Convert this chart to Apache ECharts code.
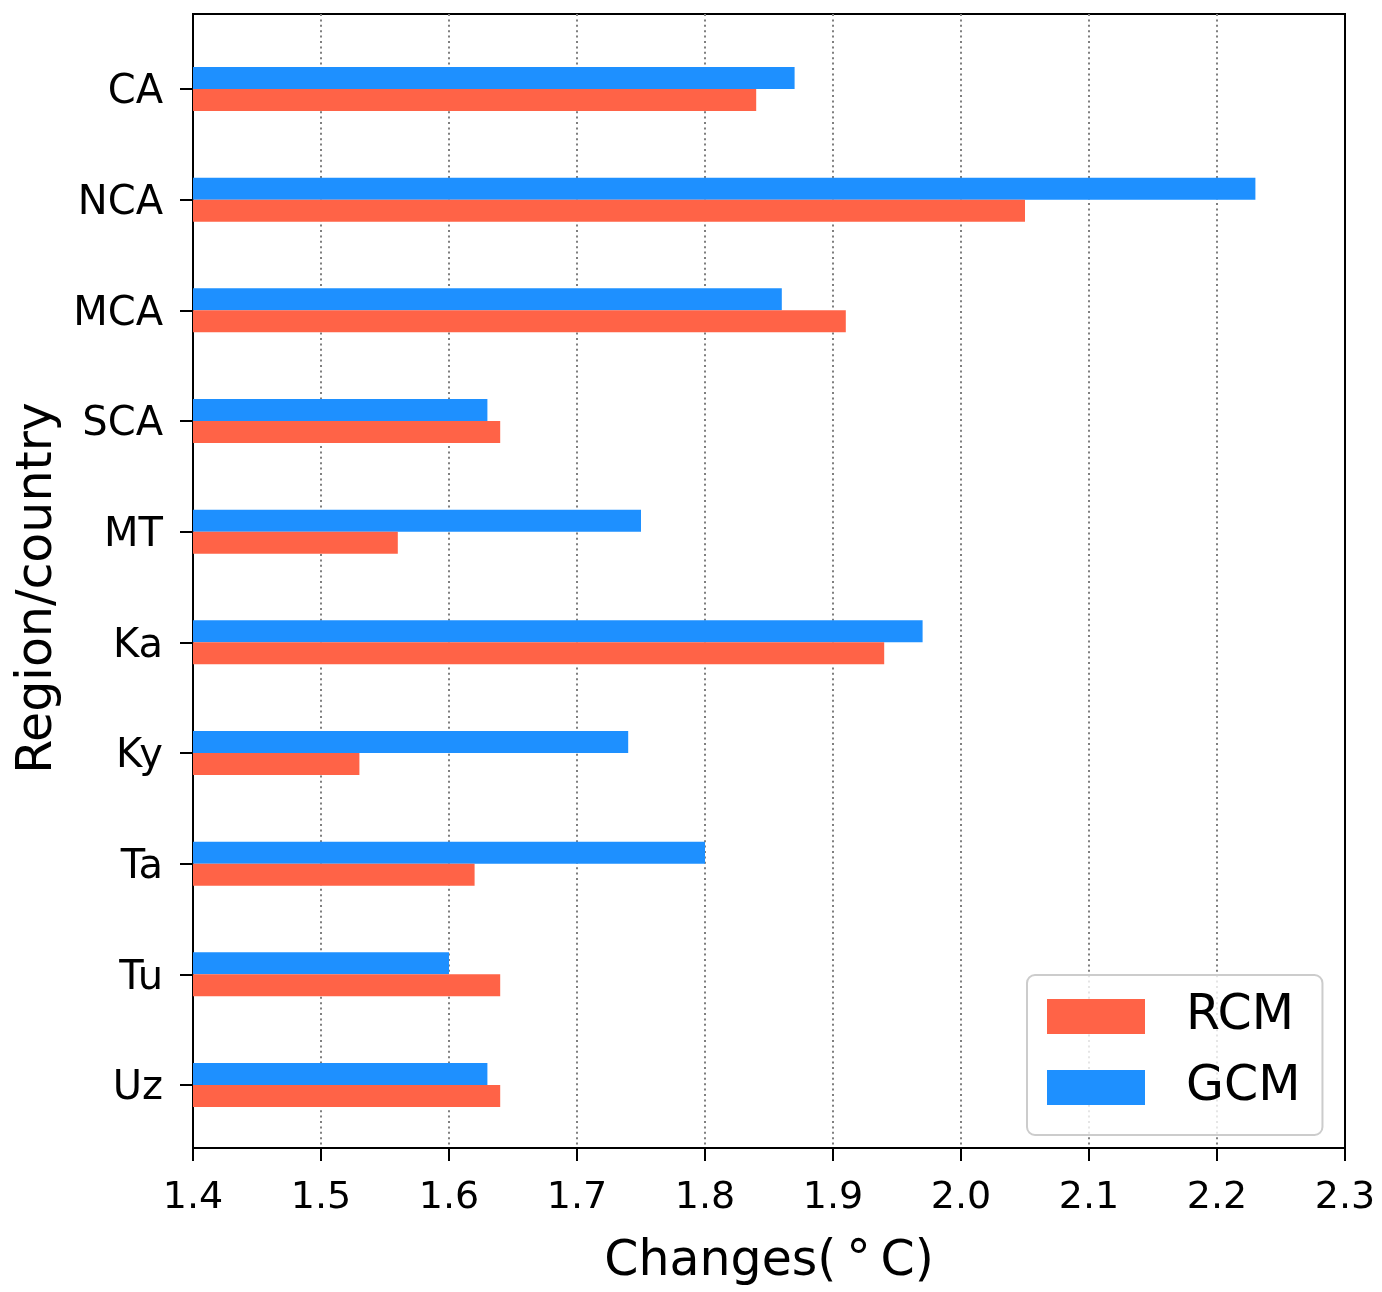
<!DOCTYPE html>
<html>
<head>
<meta charset="utf-8">
<script src="https://cdn.jsdelivr.net/npm/echarts@6/dist/echarts.min.js"></script>
<style>
  html, body { margin: 0; padding: 0; background: #fff; }
  #chart { width: 1382px; height: 1292px; }
</style>
</head>
<body>
<div id="chart"></div>
<script>
// Regions / countries, top to bottom
const categories = ['CA', 'NCA', 'MCA', 'SCA', 'MT', 'Ka', 'Ky', 'Ta', 'Tu', 'Uz'];
// Temperature changes (°C)
const rcmValues = [1.84, 2.05, 1.91, 1.64, 1.56, 1.94, 1.53, 1.62, 1.64, 1.64];
const gcmValues = [1.87, 2.23, 1.86, 1.63, 1.75, 1.97, 1.74, 1.80, 1.60, 1.63];
// Value-axis range and tick step
const xMin = 1.4;
const xMax = 2.3;
const xStep = 0.1;

const FONT = 'DejaVu Sans';
const RED = '#FF6347';
const BLUE = '#1E90FF';

const chart = echarts.init(document.getElementById('chart'), null, { renderer: 'canvas' });

chart.setOption({
  backgroundColor: '#fff',
  animation: false,
  textStyle: { fontFamily: FONT, color: '#000' },
  legend: {
    data: ['RCM', 'GCM'],
    orient: 'vertical',
    left: 1027,
    top: 975,
    padding: [17, 22, 23, 20],
    itemWidth: 98,
    itemHeight: 35,
    itemGap: 22,
    backgroundColor: 'rgba(255,255,255,0.8)',
    borderColor: '#cccccc',
    borderWidth: 2,
    borderRadius: 8,
    icon: 'rect',
    textStyle: { fontFamily: FONT, fontSize: 49, color: '#000', padding: [0, 0, 0, 36] }
  },
  grid: [
    // frame + value axis
    { left: 193, right: 37, top: 14, bottom: 133, show: true, borderColor: '#000', borderWidth: 2, backgroundColor: 'transparent' },
    // category bands
    { left: 193, right: 37, top: 33.7, bottom: 151.7 }
  ],
  xAxis: [
    {
      gridIndex: 0,
      type: 'value',
      min: xMin,
      max: xMax,
      interval: xStep,
      name: 'Changes(\u2009\u00B0\u2009C)',
      nameLocation: 'middle',
      nameGap: 90,
      nameTextStyle: { fontFamily: FONT, fontSize: 49, color: '#000' },
      axisLine: { show: true, lineStyle: { color: '#000', width: 2 } },
      axisTick: { show: true, inside: false, length: 13, lineStyle: { color: '#000', width: 2 } },
      axisLabel: {
        show: true, margin: 31, fontFamily: FONT, fontSize: 38, color: '#000',
        formatter: v => v.toFixed(1)
      },
      splitLine: { show: true, showMinLine: false, showMaxLine: false, lineStyle: { color: '#7f7f7f', width: 2, type: [2, 3.4] } }
    },
    {
      gridIndex: 1,
      type: 'value',
      min: xMin,
      max: xMax,
      show: false,
      splitLine: { show: false }
    }
  ],
  yAxis: [
    {
      gridIndex: 0,
      type: 'value',
      min: 0,
      max: 1,
      name: 'Region/country',
      nameLocation: 'middle',
      nameGap: 130,
      nameRotate: 90,
      nameTextStyle: { fontFamily: FONT, fontSize: 49, color: '#000', padding: [0, 14, 0, 0] },
      axisLine: { show: true, lineStyle: { color: '#000', width: 2 } },
      axisTick: { show: false },
      axisLabel: { show: false },
      splitLine: { show: false }
    },
    {
      gridIndex: 1,
      type: 'category',
      inverse: true,
      data: categories,
      axisLine: { show: false },
      axisTick: { show: true, alignWithLabel: true, inside: false, length: 13, lineStyle: { color: '#000', width: 2 } },
      axisLabel: {
        margin: 30,
        formatter: v => '{c|' + v + '}',
        rich: { c: { fontFamily: FONT, fontSize: 40, color: '#000', padding: [8, 0, 0, 0] } }
      },
      splitLine: { show: false }
    }
  ],
  series: [
    {
      name: 'GCM',
      type: 'bar',
      xAxisIndex: 1,
      yAxisIndex: 1,
      data: gcmValues,
      barWidth: 22,
      barGap: '0%',
      itemStyle: { color: BLUE }
    },
    {
      name: 'RCM',
      type: 'bar',
      xAxisIndex: 1,
      yAxisIndex: 1,
      data: rcmValues,
      barWidth: 22,
      barGap: '0%',
      itemStyle: { color: RED }
    }
  ]
});
</script>
</body>
</html>
